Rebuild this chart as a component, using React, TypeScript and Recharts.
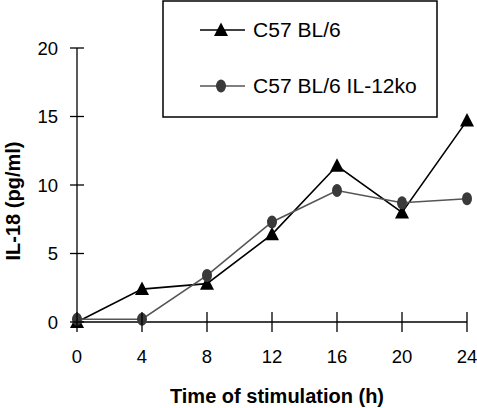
import React from 'react';
import { LineChart, Line, XAxis, YAxis, Legend, Label } from 'recharts';

const TIMES = [0, 4, 8, 12, 16, 20, 24];
const WILD_TYPE = [0, 2.4, 2.8, 6.4, 11.4, 8.0, 14.7]; // C57 BL/6
const IL12_KO = [0.2, 0.2, 3.4, 7.3, 9.6, 8.7, 9.0]; // C57 BL/6 IL-12ko
const X_TICKS = [0, 4, 8, 12, 16, 20, 24];
const Y_TICKS = [0, 5, 10, 15, 20];

const FONT = '"Liberation Sans", Arial, Helvetica, sans-serif';
const GREY_LINE = '#555555';
const GREY_DOT = '#3a3a3a';

const data = TIMES.map((t, i) => ({ t, wt: WILD_TYPE[i], ko: IL12_KO[i] }));

const Triangle = ({ cx, cy }: any) => {
    if (cx == null || cy == null) return null;
    return <path d={`M${cx},${cy - 7.5} L${cx + 7},${cy + 6} L${cx - 7},${cy + 6} Z`} fill="#000" />;
};

const Dot = ({ cx, cy }: any) => {
    if (cx == null || cy == null) return null;
    return <ellipse cx={cx} cy={cy} rx={5} ry={6.5} fill={GREY_DOT} />;
};

// ticks cross the axis line on both sides
const YTick = ({ x, y, payload }: any) => (
    <g>
        <line x1={x - 7} x2={x + 7} y1={y} y2={y} stroke="#000" strokeWidth={1.3} />
        <text x={x - 19} y={y + 6.5} textAnchor="end" fontSize={18.5} fontFamily={FONT} fill="#000">
            {payload.value}
        </text>
    </g>
);

const XTick = ({ x, y, payload }: any) => (
    <g>
        <line x1={x} x2={x} y1={y - 10} y2={y + 10} stroke="#000" strokeWidth={1.3} />
        <text x={x} y={y + 41} textAnchor="middle" fontSize={18.5} fontFamily={FONT} fill="#000">
            {payload.value}
        </text>
    </g>
);

const LegendText = ({ x, y, children }: any) => (
    <text transform={`translate(${x},${y}) scale(1.08,1)`} fontSize={19.5} fontFamily={FONT} fill="#000">
        {children}
    </text>
);

const LegendBox = () => (
    <svg width={278} height={120} style={{ display: 'block' }}>
        <rect x={1} y={1} width={274} height={116} fill="#fff" stroke="#000" strokeWidth={1.5} />
        <line x1={38} x2={83} y1={30} y2={30} stroke="#000" strokeWidth={1.6} />
        <Triangle cx={59} cy={30} />
        <LegendText x={91} y={37}>C57 BL/6</LegendText>
        <line x1={38} x2={83} y1={86} y2={86} stroke={GREY_LINE} strokeWidth={1.6} />
        <Dot cx={59} cy={86} />
        <LegendText x={91} y={93}>C57 BL/6 IL-12ko</LegendText>
    </svg>
);

export default function App() {
    return (
        <div style={{ position: 'absolute', left: 0, top: 0, width: 477, height: 408, background: '#fff' }}>
            <LineChart width={477} height={408} data={data} margin={{ top: 48, right: 10, bottom: 0, left: 0 }}>
                <XAxis
                    dataKey="t"
                    type="number"
                    domain={[0, 24]}
                    ticks={X_TICKS}
                    interval={0}
                    height={86}
                    tickSize={0}
                    tickMargin={0}
                    tickLine={false}
                    axisLine={{ stroke: '#000', strokeWidth: 1.3 }}
                    tick={<XTick />}
                >
                    <Label
                        content={({ viewBox }: any) => (
                            <text
                                x={viewBox.x + viewBox.width / 2 + 5}
                                y={viewBox.y + 81}
                                textAnchor="middle"
                                fontSize={20}
                                fontWeight="bold"
                                fontFamily={FONT}
                                fill="#000"
                            >
                                Time of stimulation (h)
                            </text>
                        )}
                    />
                </XAxis>
                <YAxis
                    type="number"
                    domain={[0, 20]}
                    ticks={Y_TICKS}
                    interval={0}
                    width={77}
                    tickSize={0}
                    tickMargin={0}
                    tickLine={false}
                    axisLine={{ stroke: '#000', strokeWidth: 1.3 }}
                    tick={<YTick />}
                >
                    <Label
                        content={({ viewBox }: any) => (
                            <text
                                transform={`translate(20, ${viewBox.y + viewBox.height / 2 + 16}) rotate(-90)`}
                                textAnchor="middle"
                                fontSize={20}
                                fontWeight="bold"
                                fontFamily={FONT}
                                fill="#000"
                            >
                                IL-18 (pg/ml)
                            </text>
                        )}
                    />
                </YAxis>
                <Legend
                    layout="horizontal"
                    verticalAlign="middle"
                    align="center"
                    wrapperStyle={{ left: 162, top: 0, width: 278, height: 120 }}
                    content={() => <LegendBox />}
                />
                <Line
                    dataKey="wt"
                    stroke="#000"
                    strokeWidth={1.6}
                    dot={<Triangle />}
                    activeDot={false}
                    isAnimationActive={false}
                />
                <Line
                    dataKey="ko"
                    stroke={GREY_LINE}
                    strokeWidth={1.6}
                    dot={<Dot />}
                    activeDot={false}
                    isAnimationActive={false}
                />
            </LineChart>
        </div>
    );
}
